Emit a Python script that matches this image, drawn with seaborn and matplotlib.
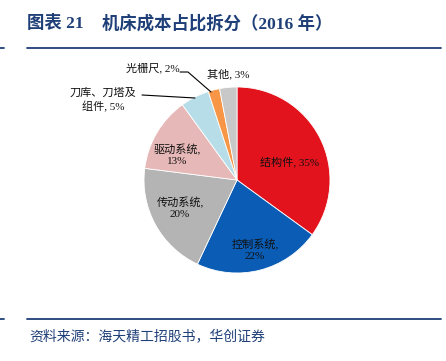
import numpy as np
import matplotlib
matplotlib.use("Agg")
import matplotlib.pyplot as plt
import seaborn as sns
from matplotlib.lines import Line2D

# data
names = ["结构件", "控制系统", "传动系统", "驱动系统", "刀库、刀塔及\n组件", "光栅尺", "其他"]
shares = [35, 22, 20, 13, 5, 2, 3]
seps = [", ", ",\n", ",\n", ",\n", ", ", ", ", ", "]
colors = ["#e3131d", "#0a5cb5", "#b4b4b4", "#e6b8b7", "#b7dde8", "#f79646", "#c8c8c8"]

sns.set_theme(style="white")
plt.rcParams['font.family'] = ['Noto Sans CJK SC', 'DejaVu Sans']
serif_cjk = ['Liberation Serif', 'Noto Sans CJK SC']

W, H = 446, 361
fig = plt.figure(figsize=(W / 100, H / 100), dpi=100)
navy = "#1f3f78"

def px(x, y):
    return x / W, 1 - y / H

# header / footer
fig.text(*px(27, 24), "图表 21", color=navy, fontsize=12.5, fontweight="bold", va="center",
         family=serif_cjk)
fig.text(*px(102, 24), "机床成本占比拆分（2016 年）", color=navy, fontsize=12.5,
         fontweight="bold", va="center", family=serif_cjk)
for yy in (48, 319):
    fig.add_artist(Line2D([27 / W, 441 / W], [1 - yy / H] * 2, color=navy, lw=1.3))
    fig.add_artist(Line2D([0, 4 / W], [1 - yy / H] * 2, color=navy, lw=1.3))
fig.text(*px(29, 336), "资料来源：海天精工招股书，华创证券", color=navy, fontsize=10,
         style="italic", va="center")

# pie: center (237,180) px, radius 93 px
cx, cy, r = 237, 180, 93
ax = fig.add_axes([(cx - r) / W, 1 - (cy + r) / H, 2 * r / W, 2 * r / H])
wedges, _ = ax.pie(shares, colors=colors, startangle=90, counterclock=False,
                   wedgeprops=dict(edgecolor="white", linewidth=0.6))
ax.set_xlim(-1, 1)
ax.set_ylim(-1, 1)
ax.set_aspect("equal")
ax.axis("off")

def d(x, y):
    return (x - cx) / r, (cy - y) / r

labels = [f"{n}{s}{v}%" for n, s, v in zip(names, seps, shares)]
pos = [(290, 162), (255, 250), (180, 208), (177, 155), (103, 100), (153, 68), (228, 74)]
for lab, p in zip(labels, pos):
    ax.text(*d(*p), lab, ha="center", va="center", fontsize=8, color="#111111",
            linespacing=1.3, clip_on=False, family=serif_cjk)

# leader lines
ax.add_line(Line2D(*zip(d(180, 72), d(188, 72), d(211, 92)), color="black", lw=0.8, clip_on=False))
ax.add_line(Line2D(*zip(d(142, 95), d(195, 98)), color="black", lw=0.8, clip_on=False))

fig.savefig("out.png", dpi=100)
